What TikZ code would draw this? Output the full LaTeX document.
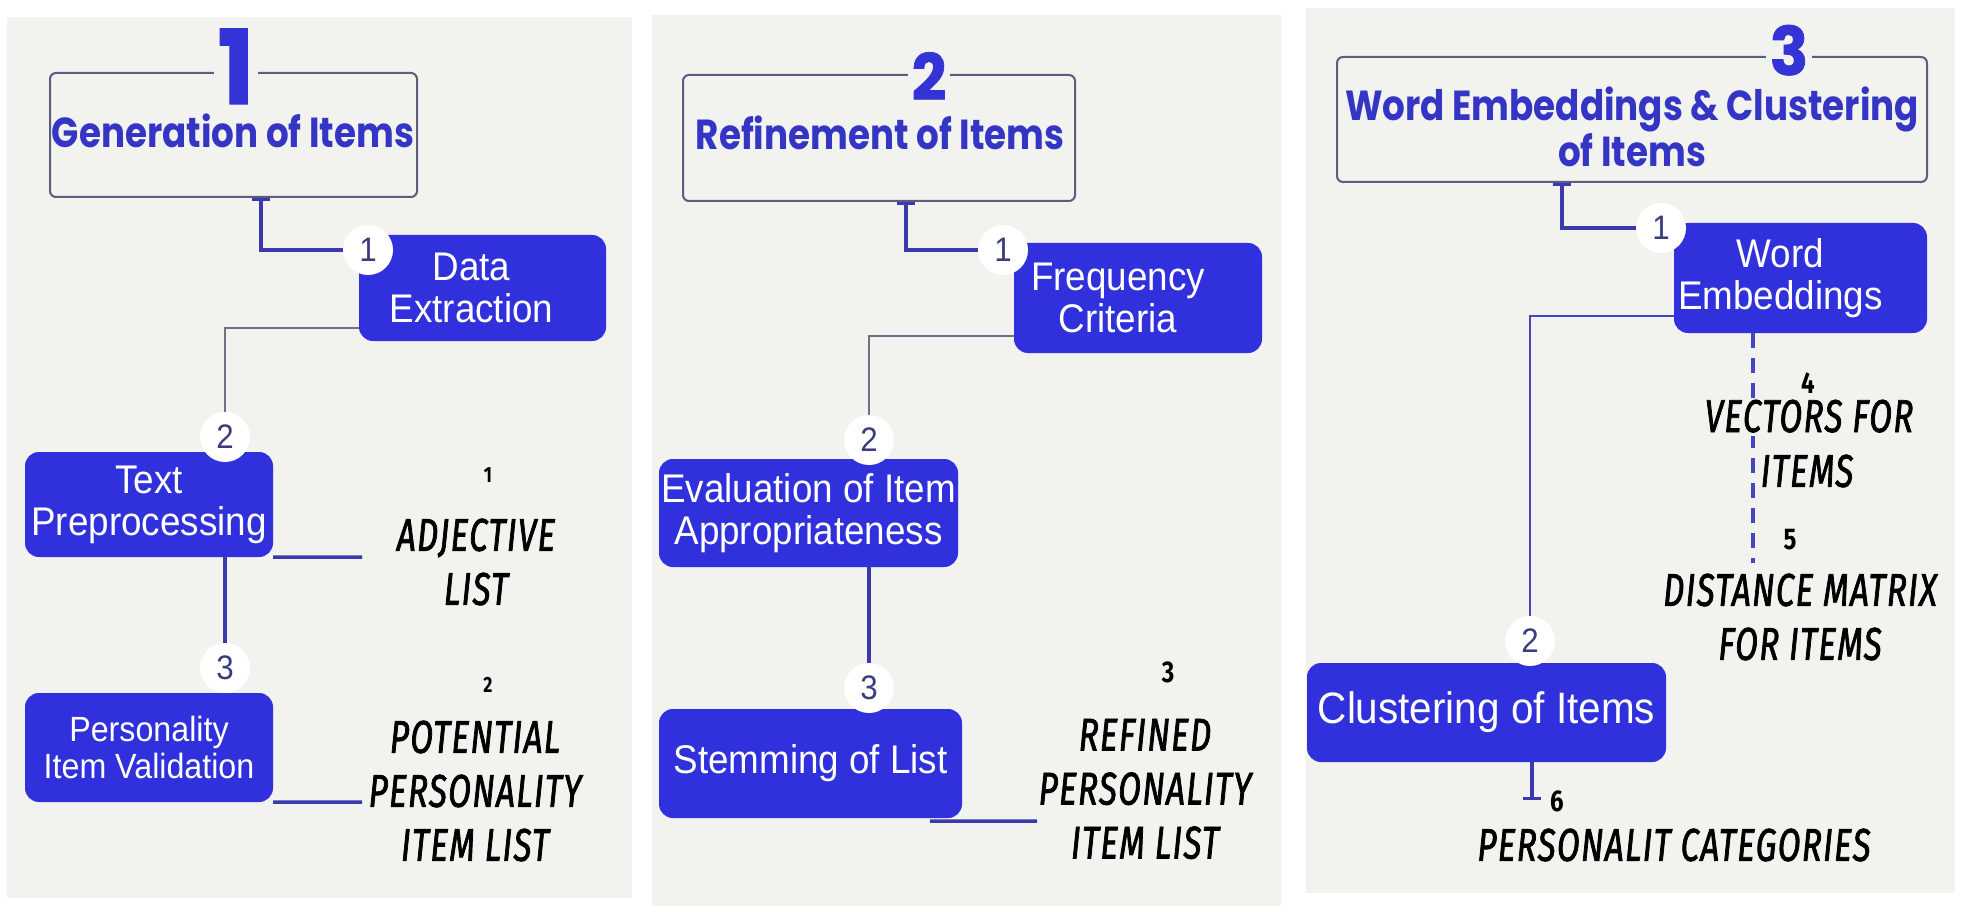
\documentclass[tikz,border=0pt]{standalone}
\usepackage{fontspec}
\usetikzlibrary{arrows.meta}
\setmainfont{Liberation Sans}
\newfontfamily\boxfont{Liberation Sans}[FakeStretch=0.92]
\newfontfamily\headfont{Poppins}[FakeStretch=0.85]
\newfontfamily\numfont{Poppins}[FakeStretch=0.95, BoldFeatures={FakeBold=1.2}]
\newfontfamily\handfont{Fira Sans}[FakeStretch=0.72, LetterSpace=3, FakeBold=1.6]
\newfontfamily\handnumfont{Fira Sans}[FakeStretch=0.8]

\definecolor{panelbg}{HTML}{F2F2EE}
\definecolor{boxblue}{HTML}{3030DD}
\definecolor{headblue}{HTML}{3535C5}
\definecolor{numblue}{HTML}{3333D6}
\definecolor{framegray}{HTML}{5C5C80}
\definecolor{lineblue}{HTML}{3A3AAE}
\definecolor{linegray}{HTML}{70708A}
\definecolor{thinblue}{HTML}{4646C4}
\definecolor{badgeink}{HTML}{3B3B80}

% pads the right end of a box line so the text sits left of centre
\newcommand{\padr}[1]{\hspace*{#1}}

\tikzset{
  panel/.style={fill=panelbg, draw=none},
  headbox/.style={draw=framegray, line width=2pt, rounded corners=6pt, inner sep=0pt},
  headtext/.style={font=\headfont\bfseries\fontsize{42}{44}\selectfont, text=headblue, align=center, inner sep=0pt},
  bignum/.style={font=\numfont\bfseries\fontsize{#1}{#1}\selectfont, text=numblue, fill=panelbg,
    inner xsep=4pt, inner ysep=0pt, anchor=base},
  stepbox/.style={fill=boxblue, rounded corners=14pt, text=white, align=center,
    font=\boxfont\fontsize{40}{42}\selectfont, inner sep=0pt},
  badge/.style={circle, fill=white, minimum size=50pt, inner sep=0pt, text=badgeink,
    font=\boxfont\fontsize{34}{34}\selectfont},
  thickln/.style={draw=lineblue, line width=3.5pt},
  thinln/.style={draw=linegray, line width=2pt},
  thinblueln/.style={draw=thinblue, line width=2.5pt},
  dashln/.style={draw=thinblue, line width=4pt, dash pattern=on 15pt off 10pt},
  hand/.style={font=\handfont\itshape\fontsize{46}{54}\selectfont, align=center, text=black, inner sep=0pt},
  handnum/.style={font=\handnumfont\bfseries\fontsize{#1}{#1}\selectfont, text=black, inner sep=0pt},
  handnum/.default=22,
}

\begin{document}
\begin{tikzpicture}[x=1pt, y=-1pt]
  % canvas and the three panels
  \fill[white] (0,0) rectangle (1963,912);
  \useasboundingbox (0,0) rectangle (1963,912);
  \fill[panel] (7,17) rectangle (632,898);
  \fill[panel] (652,15) rectangle (1281,906);
  \fill[panel] (1306,8) rectangle (1955,893);

  % ---------------- stage 1 ----------------
  \node[headbox, minimum width=367pt, minimum height=124pt] (t1) at (233.5,135) {};
  \node[bignum=103] (k1) at (236,104) {1};
  \node[headtext, anchor=base] (h1) at (233,148) {Generation of Items};

  \node[stepbox, minimum width=247pt, minimum height=106pt] (de) at (482.5,288) {Data\padr{22pt}\\Extraction\padr{22pt}};
  \node[badge] (a1) at (368,250) {1};
  \node[stepbox, minimum width=248pt, minimum height=105pt] (tp) at (149,504.5) {Text\\Preprocessing};
  \node[badge] (a2) at (225,437) {2};
  \node[stepbox, minimum width=248pt, minimum height=109pt,
        font=\boxfont\fontsize{35}{37}\selectfont] (piv) at (149,747.5) {Personality\\Item Validation};
  \node[badge] (a3) at (225,668) {3};

  \coordinate (e1) at (362,557);
  \coordinate (e2) at (362,802);
  \draw[thickln, {Bar[width=18pt]}-] ([xshift=27.5pt]t1.south) |- (a1.west);
  \draw[thinln] ([yshift=-40pt]de.west) -| (a2.north);
  \draw[thickln] (tp.south -| a3) -- (a3.north);
  \draw[thickln] (tp.south east) -- (e1);
  \draw[thickln] (piv.south east) -- (e2);

  \node[handnum] (n1) at (488,475) {1};
  \node[hand] (l1) at (476,562) {ADJECTIVE\\LIST};
  \node[handnum] (n2) at (488,685) {2};
  \node[hand] (l2) at (475,791) {POTENTIAL\\PERSONALITY\\ITEM LIST};

  % ---------------- stage 2 ----------------
  \node[headbox, minimum width=392pt, minimum height=126pt] (t2) at (879,138) {};
  \node[bignum=64] (k2) at (929,100) {2};
  \node[headtext, anchor=base] (h2) at (880,150) {Refinement of Items};

  \node[stepbox, minimum width=248pt, minimum height=110pt] (fc) at (1138,298) {Frequency\padr{40pt}\\Criteria\padr{40pt}};
  \node[badge] (b1) at (1003,250) {1};
  \node[stepbox, minimum width=299pt, minimum height=108pt] (eia) at (808.5,513) {Evaluation of Item\\Appropriateness};
  \node[badge] (b2) at (869,440) {2};
  \node[stepbox, minimum width=303pt, minimum height=109pt] (sl) at (810.5,763.5) {Stemming of List};
  \node[badge] (b3) at (869,688) {3};

  \coordinate (e3) at (1037,821);
  \draw[thickln, {Bar[width=18pt]}-] ([xshift=27pt]t2.south) |- (b1.west);
  \draw[thinln] ([yshift=-38pt]fc.west) -| (b2.north);
  \draw[thickln] (eia.south -| b3) -- (b3.north);
  \draw[thickln] ([xshift=-32pt,yshift=-3pt]sl.south east) -- (e3);

  \node[handnum=30] (n3) at (1168,672) {3};
  \node[hand] (l3) at (1145,789) {REFINED\\PERSONALITY\\ITEM LIST};

  % ---------------- stage 3 ----------------
  \node[headbox, minimum width=590pt, minimum height=125pt] (t3) at (1632,119.5) {};
  \node[bignum=67] (k3) at (1789,75) {3};
  \node[headtext] (h3) at (1632,127) {Word Embeddings \& Clustering\\of Items};

  \node[stepbox, minimum width=253pt, minimum height=110pt] (we) at (1800.5,278) {Word\padr{40pt}\\Embeddings\padr{40pt}};
  \node[badge] (c1) at (1661,228) {1};
  \node[stepbox, minimum width=359pt, minimum height=99pt,
        font=\boxfont\fontsize{44}{46}\selectfont] (ci) at (1486.5,712.5) {Clustering of Items};
  \node[badge] (c2) at (1530,641) {2};

  \coordinate (e4) at (1532,800);
  \coordinate (e5) at (1753,563);
  \draw[thickln, {Bar[width=18pt]}-] ([xshift=-70pt]t3.south) |- (c1.west);
  \draw[thinblueln] ([yshift=-38pt]we.west) -| (c2.north);
  \draw[thickln, -{Bar[width=18pt]}] (ci.south -| e4) -- (e4);
  \draw[dashln] (we.south -| e5) -- (e5);

  \node[handnum=30] (n4) at (1808,383) {4};
  \node[hand, fill=panelbg, text height=30pt, text depth=2pt, inner ysep=2pt] (l4a) at (1809,418) {VECTORS FOR};
  \node[hand] (l4b) at (1807,471) {ITEMS};
  \node[handnum=30] (n5) at (1790,540) {5};
  \node[hand] (l5) at (1800,617) {DISTANCE MATRIX\\FOR ITEMS};
  \node[handnum=30] (n6) at (1557,801) {6};
  \node[hand] (l6) at (1674,845) {PERSONALIT CATEGORIES};
\end{tikzpicture}
\end{document}
